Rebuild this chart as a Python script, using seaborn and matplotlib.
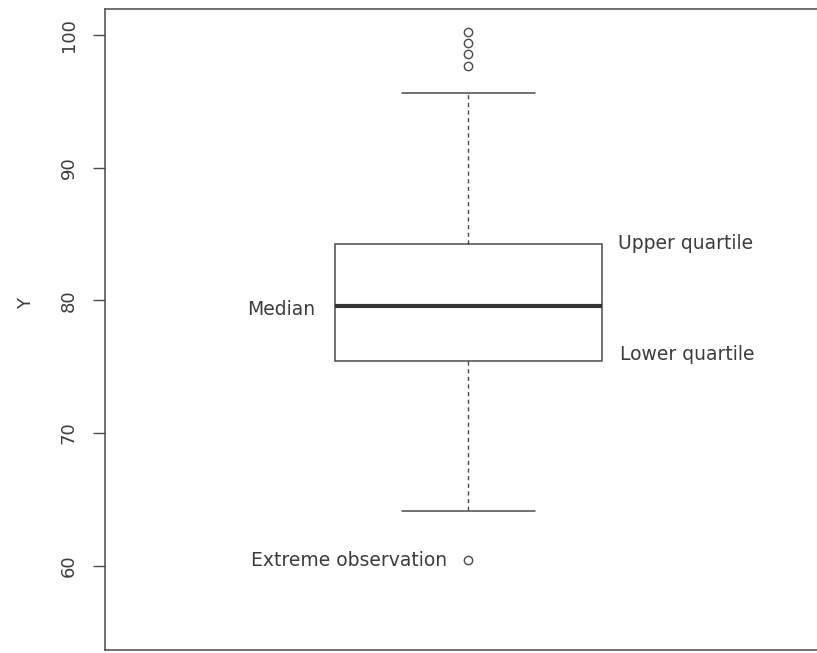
import numpy as np
import pandas as pd
import matplotlib
matplotlib.use("Agg")
import matplotlib.pyplot as plt
import seaborn as sns

lower_tail = [60.4, 64.1, 68.5, 71.8, 73.9]
middle = [75.4, 76.6, 77.7, 78.5, 79.1, 79.6, 80.6, 81.6, 82.5, 83.4, 84.25]
upper_tail = [95.6, 97.7, 98.6, 99.4, 100.25]
y_values = lower_tail + middle + upper_tail

y_ticks = [60, 70, 80, 90, 100]
annotations = ["Median", "Upper quartile", "Lower quartile", "Extreme observation"]

df = pd.DataFrame({"Y": y_values})

sns.set_style("white")
plt.rcParams["font.family"] = ["DejaVu Sans"]

ink = "#4a4a4a"
txt = "#3c3c3c"
fig = plt.figure(figsize=(8.17, 6.53), dpi=100)
ax = fig.add_axes([105 / 817, 3 / 653, 735 / 817, 641 / 653])

sns.boxplot(
    y="Y", data=df, ax=ax, width=0.8, color="white", linecolor=ink, linewidth=1.0,
    boxprops=dict(facecolor="white", edgecolor=ink, linewidth=1.1),
    medianprops=dict(color="#333333", linewidth=3.0),
    whiskerprops=dict(color=ink, linewidth=1.0, linestyle=(0, (3, 2.5))),
    capprops=dict(color=ink, linewidth=1.1),
    flierprops=dict(marker="o", markersize=6, markerfacecolor="none",
                    markeredgecolor=ink, markeredgewidth=1.0),
)

ax.set_xlim(-1.088, 1.112)
ax.set_ylim(53.65, 101.96)
ax.set_yticks(y_ticks)
ax.set_yticklabels([str(t) for t in y_ticks], rotation=90, va="center", fontsize=13, color=txt)
ax.tick_params(axis="y", left=True, length=8.5, width=1.0, color=ink, pad=11)
ax.tick_params(axis="x", bottom=False, labelbottom=False)
ax.set_xlabel("")
ax.set_ylabel("Y", fontsize=13, color=txt, rotation=90)
ax.yaxis.set_label_coords(-0.095, 0.54)

for side in ["left", "top", "bottom"]:
    ax.spines[side].set_color(ink)
    ax.spines[side].set_linewidth(1.1)
ax.spines["right"].set_visible(False)

q1, med, q3 = np.percentile(y_values, [25, 50, 75])
ax.text(-0.46, med - 0.3, annotations[0], ha="right", va="center", fontsize=13.5, color=txt)
ax.text(0.448, q3, annotations[1], ha="left", va="center", fontsize=13.5, color=txt)
ax.text(0.453, q1 + 0.5, annotations[2], ha="left", va="center", fontsize=13.5, color=txt)
ax.text(-0.064, min(y_values), annotations[3], ha="right", va="center", fontsize=13.5, color=txt)

fig.savefig("out.png", dpi=100)
